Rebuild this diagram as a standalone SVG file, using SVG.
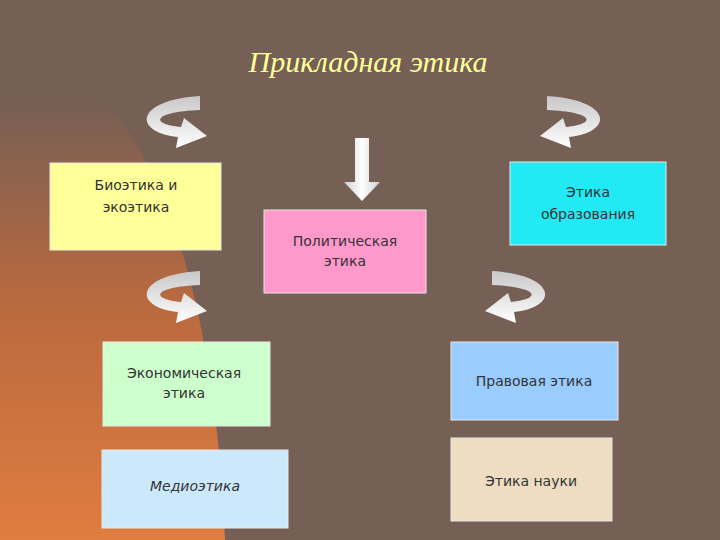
<svg xmlns="http://www.w3.org/2000/svg" width="720" height="540" viewBox="0 0 720 540">
<defs>
<linearGradient id="bg" x1="0" y1="0" x2="0" y2="1">
<stop offset="0" stop-color="#765f55"/><stop offset="0.45" stop-color="#b8693f"/><stop offset="1" stop-color="#e07d40"/>
</linearGradient>
<linearGradient id="arr" x1="0" y1="0" x2="0" y2="1">
<stop offset="0" stop-color="#c8c8c8"/><stop offset="1" stop-color="#ffffff"/>
</linearGradient>
<linearGradient id="dn" x1="0" y1="0" x2="1" y2="0">
<stop offset="0" stop-color="#cfcfcf"/><stop offset="0.5" stop-color="#ffffff"/><stop offset="1" stop-color="#cfcfcf"/>
</linearGradient>
<path id="ca" d="M200,96 C135,100 132,132 178,137 L176,148 L207,136 L184,118 L181,127 C150,124 152,112 200,110 Z" fill="url(#arr)"/>
</defs>
<style>
.b{stroke:#e8e8e8;stroke-width:1}
.t{font-family:"DejaVu Sans","Noto Sans",sans-serif;font-size:14px;fill:#333;text-anchor:middle}
</style>
<rect width="720" height="540" fill="#765f55"/>
<path d="M0,100 L100,100 C160,150 215,300 225,540 L0,540 Z" fill="url(#bg)"/>
<text x="368" y="72" font-family="Liberation Serif,serif" font-style="italic" font-size="30" fill="#ffff99" text-anchor="middle">Прикладная этика</text>
<g id="connectors">
<use href="#ca"/>
<use href="#ca" transform="translate(0,175)"/>
<use href="#ca" transform="translate(747,0) scale(-1,1)"/>
<use href="#ca" transform="translate(692,175) scale(-1,1)"/>
<path d="M355,138 H369 V182 H380 L362,201 L344,182 H355 Z" fill="url(#dn)"/>
</g>
<g id="bio"><rect class="b" x="50" y="163" width="171" height="87" fill="#ffff99"/><text class="t" x="136" y="190">Биоэтика и</text><text class="t" x="136" y="212">экоэтика</text></g>
<g id="edu"><rect class="b" x="510" y="162" width="156" height="83" fill="#22eaf5"/><text class="t" x="588" y="197">Этика</text><text class="t" x="588" y="219">образования</text></g>
<g id="pol"><rect class="b" x="264" y="210" width="162" height="83" fill="#ff99cc"/><text class="t" x="345" y="246">Политическая</text><text class="t" x="345" y="266">этика</text></g>
<g id="eco"><rect class="b" x="103" y="342" width="167" height="84" fill="#ccffcc"/><text class="t" x="184" y="378">Экономическая</text><text class="t" x="184" y="398">этика</text></g>
<g id="law"><rect class="b" x="451" y="342" width="167" height="78" fill="#99ccff"/><text class="t" x="534" y="386">Правовая этика</text></g>
<g id="media"><rect class="b" x="102" y="450" width="186" height="78" fill="#cce9fb"/><text class="t" x="195" y="491" font-style="italic">Медиоэтика</text></g>
<g id="sci"><rect class="b" x="451" y="438" width="161" height="83" fill="#eeddc2"/><text class="t" x="531" y="486">Этика науки</text></g>
</svg>
